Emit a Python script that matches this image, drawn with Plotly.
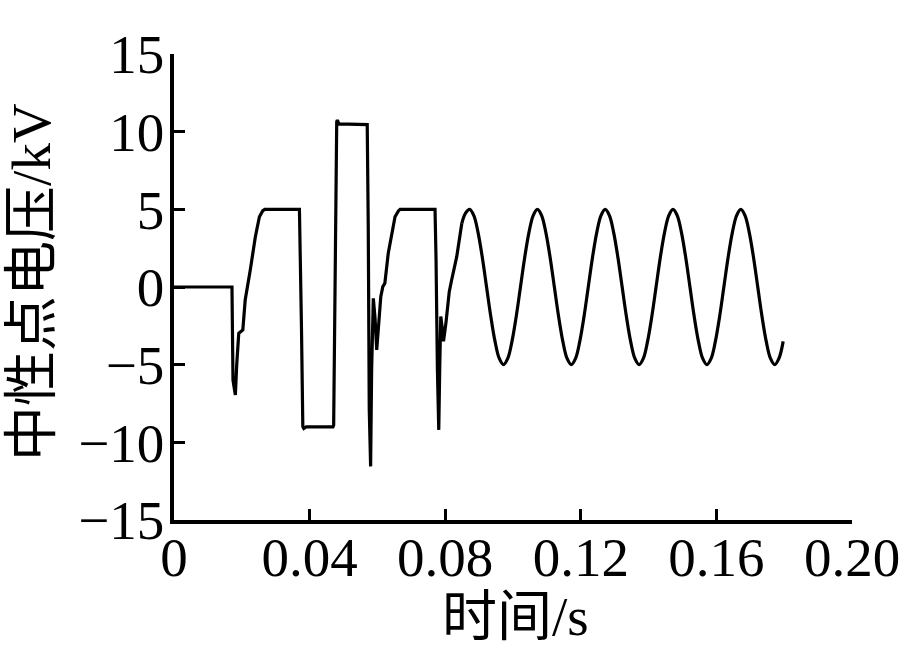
import plotly.graph_objects as go

# Transient part (time in s, neutral-point voltage in kV)
t_transient = [0.0, 0.0171, 0.0174, 0.0181, 0.0185, 0.0191, 0.0203, 0.0210, 0.0225, 0.0240,
               0.0252, 0.0262, 0.0268, 0.0370, 0.0376, 0.0380, 0.0383, 0.0390, 0.0469,
               0.0471, 0.0480, 0.0482, 0.0486, 0.0570, 0.0573, 0.0576, 0.0580, 0.0583,
               0.0588, 0.0593, 0.0598, 0.0603, 0.0610, 0.0616, 0.0622, 0.0632, 0.0642,
               0.0652, 0.0662, 0.0667, 0.0770, 0.0773, 0.0777, 0.0781, 0.0784, 0.0787,
               0.0791, 0.0795, 0.0802, 0.0812, 0.0819, 0.0834, 0.0849]
v_transient = [0.0, 0.0, -6.0, -6.95, -5.0, -2.98, -2.77, -0.84, 1.09, 3.24,
               4.52, 4.91, 5.0, 5.0, -2.55, -8.98, -9.1, -9.0, -9.0,
               -8.9, 10.65, 10.75, 10.5, 10.45, 3.9, -7.9, -11.55, -5.3,
               -0.73, -2.0, -4.05, -2.34, -0.62, 0.02, 0.24, 2.17, 3.24,
               4.52, 4.9, 5.0, 5.0, 1.74, -5.3, -9.2, -5.0, -1.9,
               -2.6, -3.5, -2.34, -0.3, 0.45, 1.95, 4.1]

# Steady-state oscillation after the last event (values read every 1.25 ms)
t_steady = [0.0849, 0.0860, 0.0872, 0.08845, 0.0897, 0.09095, 0.0922, 0.09345, 0.0947,
            0.09595, 0.0972, 0.09845, 0.0997, 0.10095, 0.1022, 0.10345, 0.1047, 0.10595,
            0.1072, 0.10845, 0.1097, 0.11095, 0.1122, 0.11345, 0.1147, 0.11595,
            0.1172, 0.11845, 0.1197, 0.12095, 0.1222, 0.12345, 0.1247, 0.12595,
            0.1272, 0.12845, 0.1297, 0.13095, 0.1322, 0.13345, 0.1347, 0.13595,
            0.1372, 0.13845, 0.1397, 0.14095, 0.1422, 0.14345, 0.1447, 0.14595,
            0.1472, 0.14845, 0.1497, 0.15095, 0.1522, 0.15345, 0.1547, 0.15595,
            0.1572, 0.15845, 0.1597, 0.16095, 0.1622, 0.16345, 0.1647, 0.16595,
            0.1672, 0.16845, 0.1697, 0.17095, 0.1722, 0.17345, 0.1747, 0.17595,
            0.1772, 0.17845, 0.1797]
v_steady = [4.1, 4.75, 5.0, 4.6, 3.5, 1.9, 0.0, -1.9, -3.5,
            -4.6, -5.0, -4.6, -3.5, -1.9, 0.0, 1.9, 3.5, 4.6,
            5.0, 4.6, 3.5, 1.9, 0.0, -1.9, -3.5, -4.6,
            -5.0, -4.6, -3.5, -1.9, 0.0, 1.9, 3.5, 4.6,
            5.0, 4.6, 3.5, 1.9, 0.0, -1.9, -3.5, -4.6,
            -5.0, -4.6, -3.5, -1.9, 0.0, 1.9, 3.5, 4.6,
            5.0, 4.6, 3.5, 1.9, 0.0, -1.9, -3.5, -4.6,
            -5.0, -4.6, -3.5, -1.9, 0.0, 1.9, 3.5, 4.6,
            5.0, 4.6, 3.5, 1.9, 0.0, -1.9, -3.5, -4.6,
            -5.0, -4.6, -3.5]

x_tickvals = [0, 0.04, 0.08, 0.12, 0.16, 0.20]
x_ticktext = ["0", "0.04", "0.08", "0.12", "0.16", "0.20"]
y_tickvals = [-15, -10, -5, 0, 5, 10, 15]
y_ticktext = ["\u221215", "\u221210", "\u22125", "0", "5", "10", "15"]

x_title = "时间/s"
y_title = "中性点电压/kV"

FONT = "Liberation Serif, Noto Sans CJK SC, serif"

fig = go.Figure()
fig.add_trace(go.Scatter(x=t_transient, y=v_transient, mode="lines",
                         line=dict(color="black", width=3.2), showlegend=False,
                         hoverinfo="skip"))
fig.add_trace(go.Scatter(x=t_steady, y=v_steady, mode="lines",
                         line=dict(color="black", width=3.2, shape="spline", smoothing=1.0),
                         showlegend=False, hoverinfo="skip"))

axis_common = dict(showline=True, linecolor="black", linewidth=3.5, ticks="inside",
                   ticklen=11, tickwidth=3, tickcolor="black", showgrid=False,
                   zeroline=False, mirror=False, automargin=False,
                   tickfont=dict(family=FONT, size=55, color="black"))

fig.update_layout(
    width=906, height=648,
    margin=dict(l=174, r=54, t=54, b=128, pad=0),
    paper_bgcolor="white", plot_bgcolor="white",
    xaxis=dict(range=[0, 0.2], tickvals=x_tickvals, ticktext=x_ticktext,
               ticklabelstandoff=-14, **axis_common),
    yaxis=dict(range=[-15, 15], tickvals=y_tickvals, ticktext=y_ticktext,
               ticklabelstandoff=-5, **axis_common),
    annotations=[
        dict(text=x_title, xref="paper", yref="paper", x=0.503, y=-0.207,
             xanchor="center", yanchor="middle", showarrow=False,
             font=dict(family=FONT, size=55, color="black")),
        dict(text=y_title, xref="paper", yref="paper", x=-0.2094, y=0.511,
             xanchor="center", yanchor="middle", showarrow=False, textangle=-90,
             font=dict(family=FONT, size=55, color="black")),
    ],
)

fig.write_html("out.html", config={"displayModeBar": False},
               post_script="document.body.style.margin='0';document.body.style.padding='0';")
